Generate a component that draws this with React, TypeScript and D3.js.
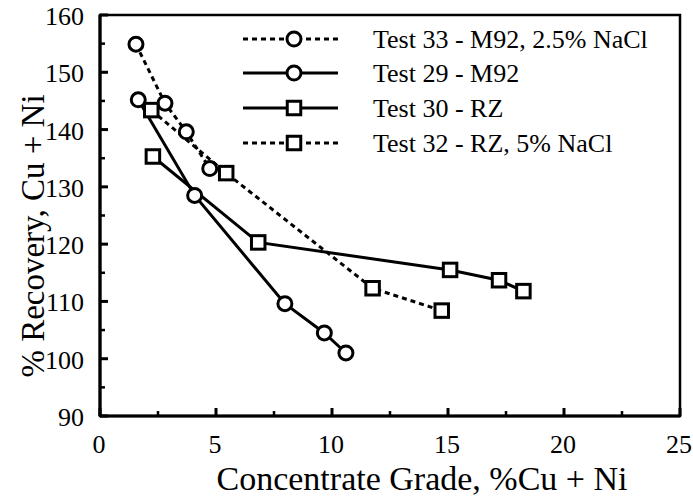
import React from "react";
import * as d3 from "d3";

const W = 693;
const H = 496;

const xDomain = [0, 25];
const yDomain = [90, 160];
const xTickLabels = [0, 5, 10, 15, 20, 25];
const yTickLabels = [90, 100, 110, 120, 130, 140, 150, 160];
const xMinorTicks = [2.5, 7.5, 12.5, 17.5, 22.5];
const yMinorTicks = [95, 105, 115, 125, 135, 145, 155];

const test33X = [1.55, 2.8, 3.72, 4.73];
const test33Y = [154.9, 144.6, 139.6, 133.2];
const test29X = [1.65, 4.08, 7.97, 9.67, 10.6];
const test29Y = [145.2, 128.5, 109.6, 104.5, 101.0];
const test30X = [2.28, 6.82, 15.09, 17.2, 18.25];
const test30Y = [135.3, 120.3, 115.5, 113.7, 111.8];
const test32X = [2.21, 5.44, 11.75, 14.73];
const test32Y = [143.4, 132.4, 112.3, 108.4];

const seriesLabels = [
  "Test 33 - M92, 2.5% NaCl",
  "Test 29 - M92",
  "Test 30 - RZ",
  "Test 32 - RZ, 5% NaCl",
];
const seriesMarkers = ["circle", "circle", "square", "square"];
const seriesDashed = [true, false, false, true];

const FONT = "'Liberation Serif', 'Times New Roman', serif";

export default function App() {
  const x = d3.scaleLinear().domain(xDomain).range([100, 680]);
  const y = d3.scaleLinear().domain(yDomain).range([416, 15]);

  const series = [
    { xs: test33X, ys: test33Y },
    { xs: test29X, ys: test29Y },
    { xs: test30X, ys: test30Y },
    { xs: test32X, ys: test32Y },
  ].map((s, i) => ({
    pts: s.xs.map((v, j) => [v, s.ys[j]] as [number, number]),
    marker: seriesMarkers[i],
    dashed: seriesDashed[i],
    label: seriesLabels[i],
  }));

  const line = d3
    .line<[number, number]>()
    .x((d) => x(d[0]))
    .y((d) => y(d[1]));

  const R = 7;
  const S = 13.5;
  const marker = (type: string, cx: number, cy: number, key: string) =>
    type === "circle" ? (
      <circle key={key} cx={cx} cy={cy} r={R} fill="#fff" stroke="#000" strokeWidth={3} />
    ) : (
      <rect key={key} x={cx - S / 2} y={cy - S / 2} width={S} height={S} fill="#fff" stroke="#000" strokeWidth={3} />
    );

  const dash = "5,4";
  const legendX0 = 243;
  const legendX1 = 338;
  const legendSym = 294;
  const legendRows = [39, 73, 108, 143];

  return (
    <svg
      width={W}
      height={H}
      style={{ position: "absolute", left: 0, top: 0, background: "#fff" }}
      fontFamily={FONT}
    >
      <rect x={0} y={0} width={W} height={H} fill="#fff" />
      {/* frame */}
      <rect x={x(0)} y={y(160)} width={x(25) - x(0)} height={y(90) - y(160)} fill="none" stroke="#000" strokeWidth={2.5} />
      <line x1={x(0)} x2={x(0)} y1={y(160)} y2={y(90)} stroke="#000" strokeWidth={3.2} />
      <line x1={x(0)} x2={x(25)} y1={y(90)} y2={y(90)} stroke="#000" strokeWidth={3.2} />

      {/* ticks */}
      {yTickLabels.map((v) => (
        <line key={"ym" + v} x1={x(0)} x2={x(0) + 8} y1={y(v)} y2={y(v)} stroke="#000" strokeWidth={3} />
      ))}
      {yMinorTicks.map((v) => (
        <line key={"yn" + v} x1={x(0)} x2={x(0) + 5} y1={y(v)} y2={y(v)} stroke="#000" strokeWidth={2.5} />
      ))}
      {xTickLabels.map((v) => (
        <line key={"xm" + v} x1={x(v)} x2={x(v)} y1={y(90)} y2={y(90) - 8} stroke="#000" strokeWidth={3} />
      ))}
      {xMinorTicks.map((v) => (
        <line key={"xn" + v} x1={x(v)} x2={x(v)} y1={y(90)} y2={y(90) - 5} stroke="#000" strokeWidth={2.5} />
      ))}

      {/* tick labels */}
      {yTickLabels.map((v) => (
        <text key={"yl" + v} x={84} y={y(v) + 10} textAnchor="end" fontSize={26} fill="#000">
          {v}
        </text>
      ))}
      {xTickLabels.map((v) => (
        <text key={"xl" + v} x={x(v) - 1} y={453} textAnchor="middle" fontSize={26} fill="#000">
          {v}
        </text>
      ))}

      {/* axis titles */}
      <text x={422} y={490} textAnchor="middle" fontSize={34} fill="#000">
        Concentrate Grade, %Cu + Ni
      </text>
      <text
        transform={`translate(44, 236) rotate(-90)`}
        textAnchor="middle"
        fontSize={33}
        fill="#000"
      >
        % Recovery, Cu + Ni
      </text>

      {/* series lines */}
      {series.map((s, i) => (
        <path
          key={"l" + i}
          d={line(s.pts) || ""}
          fill="none"
          stroke="#000"
          strokeWidth={3}
          strokeDasharray={s.dashed ? dash : undefined}
        />
      ))}
      {/* markers */}
      {series.map((s, i) =>
        s.pts.map((p, j) => marker(s.marker, x(p[0]), y(p[1]), `m${i}-${j}`))
      )}

      {/* legend */}
      {series.map((s, i) => (
        <g key={"lg" + i}>
          <line
            x1={legendX0}
            x2={legendX1}
            y1={legendRows[i]}
            y2={legendRows[i]}
            stroke="#000"
            strokeWidth={3}
            strokeDasharray={s.dashed ? dash : undefined}
          />
          {marker(s.marker, legendSym, legendRows[i], "lm" + i)}
          <text x={373} y={legendRows[i] + 9} fontSize={26} fill="#000">
            {s.label}
          </text>
        </g>
      ))}
    </svg>
  );
}
